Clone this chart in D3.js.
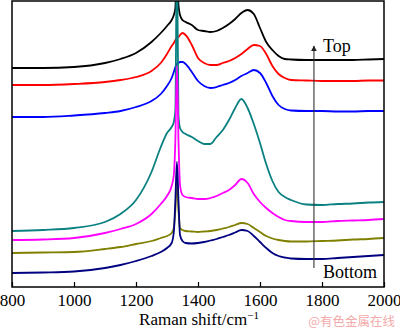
<!DOCTYPE html>
<html>
<head>
<meta charset="utf-8">
<script src="https://cdn.jsdelivr.net/npm/d3@7"></script>
<style>
  html, body { margin: 0; padding: 0; background: #fff; }
  svg { display: block; }
</style>
</head>
<body>
<svg id="chart" width="400" height="329"></svg>
<script>
// Raman shift (cm^-1) sampling positions
const ramanShift = [800, 900, 1000, 1100, 1150, 1200, 1250, 1280, 1300, 1315, 1322, 1327, 1332, 1337, 1342, 1350, 1360, 1380, 1400, 1420, 1440, 1460, 1480, 1500, 1520, 1540, 1560, 1580, 1600, 1620, 1640, 1660, 1680, 1700, 1750, 1800, 1850, 1900, 1950, 2000];

// Intensities (a.u., stacked/offset spectra), top to bottom
const blackSeries   = [219, 219, 220, 224, 228, 234, 245, 254, 261, 267, 272, 279, 327, 282, 272, 267, 265, 262, 257, 256, 255, 256, 259, 263, 268, 274, 277, 273, 259, 245, 237, 231, 228, 227.5, 227, 227, 227, 227, 227.5, 228];
const redSeries     = [202, 202, 203, 205, 207, 210, 216, 224, 233, 241, 244, 247, 249, 250, 252, 254, 252, 242, 229, 224, 222, 222, 224, 226, 229, 233, 238, 242, 241, 233, 221, 213, 209, 207, 206.5, 206, 206, 206, 206.5, 206.5];
const blueSeries    = [170, 170, 171.5, 174, 176, 180, 186, 193, 201, 209, 215, 220, 223, 224, 225, 225, 223, 215, 206, 201, 199, 200, 202, 204, 207, 211, 214, 217, 214, 204, 191, 182, 178, 176.5, 176, 176, 175.5, 175.5, 176, 176];
const tealSeries    = [56, 57, 59, 65, 73, 87, 115, 140, 154, 160, 165, 177, 337, 172, 159, 155, 153, 150, 146, 143, 143, 150, 157, 167, 179, 188, 179, 163, 144, 123, 106, 95, 90, 87, 82.5, 82, 83, 83.5, 84.5, 85];
const magentaSeries = [47, 47.5, 49, 54, 58, 63, 73, 83, 91, 101, 112, 147, 221, 147, 102, 92, 90, 89, 88, 88, 89, 91, 94, 97, 102, 108, 104, 93, 85, 79, 74, 70, 67, 66, 65, 65, 66, 66.5, 67, 68];
const oliveSeries   = [34, 34.5, 35, 38, 40, 43, 46, 49, 51, 54, 59, 77, 107, 77, 59, 57, 56, 55.5, 55, 55.5, 56, 57, 58.5, 60, 62, 64, 63, 59, 55, 51, 48.5, 47, 46, 45.5, 45.5, 46, 46.5, 47.5, 48, 49];
const navySeries    = [14, 14.5, 15.5, 19, 22, 26, 31, 35, 39, 44, 55, 87, 125, 87, 52, 46, 44, 43.5, 44, 45, 46.5, 48, 50, 52, 54.5, 57, 56, 51, 45, 39, 34, 31, 29.5, 28.5, 28, 28, 29, 30, 31, 32];

const seriesNames  = ["black", "red", "blue", "teal", "magenta", "olive", "navy"];
const seriesColors = ["#000000", "#ff0000", "#0000ff", "#0a8080", "#ff00ff", "#808000", "#000080"];
const allSeries    = [blackSeries, redSeries, blueSeries, tealSeries, magentaSeries, oliveSeries, navySeries];

const xTicks = [800, 1000, 1200, 1400, 1600, 1800, 2000];
const xDomain = [800, 2000];
const yDomain = [0, 286];

const arrowX = 1774;          // cm^-1
const arrowFrom = 19, arrowTo = 241;  // a.u.
const xTitle = "Raman shift/cm";
const xTitleSup = "\u22121";
const topLabel = "Top";
const bottomLabel = "Bottom";
const watermark = "@有色金属在线";

// ---- layout ----
const svg = d3.select("#chart");
const mL = 12, mR = 384, mT = 1, mB = 287;

const x = d3.scaleLinear().domain(xDomain).range([mL, mR]);
const y = d3.scaleLinear().domain(yDomain).range([mB, mT]);

const defs = svg.append("defs");
defs.append("clipPath").attr("id", "plotclip")
  .append("rect").attr("x", mL).attr("y", mT).attr("width", mR - mL).attr("height", mB - mT);

const line = d3.line()
  .x((d, i) => x(ramanShift[i]))
  .y(d => y(d))
  .curve(d3.curveMonotoneX);

const g = svg.append("g").attr("clip-path", "url(#plotclip)");
allSeries.forEach((s, k) => {
  g.append("path")
    .datum(s)
    .attr("fill", "none")
    .attr("stroke", seriesColors[k])
    .attr("stroke-width", 1.8)
    .attr("stroke-linejoin", "round")
    .attr("d", line);
});

// arrow
defs.append("marker").attr("id", "ah")
  .attr("viewBox", "0 0 10 10").attr("refX", 9).attr("refY", 5)
  .attr("markerWidth", 6).attr("markerHeight", 7).attr("orient", "auto")
  .attr("markerUnits", "userSpaceOnUse")
  .append("path").attr("d", "M0,0 L10,5 L0,10 Z").attr("fill", "#222");

svg.append("line")
  .attr("x1", x(arrowX)).attr("x2", x(arrowX))
  .attr("y1", y(arrowFrom)).attr("y2", y(arrowTo))
  .attr("stroke", "#333").attr("stroke-width", 1.1)
  .attr("marker-end", "url(#ah)");

svg.append("text").attr("x", x(arrowX) + 9).attr("y", 52)
  .attr("font-family", "'Liberation Serif', 'Times New Roman', serif")
  .attr("font-size", 18).attr("fill", "#000").text(topLabel);
svg.append("text").attr("x", x(arrowX) + 9).attr("y", 278)
  .attr("font-family", "'Liberation Serif', 'Times New Roman', serif")
  .attr("font-size", 18).attr("fill", "#000").text(bottomLabel);

// frame
svg.append("rect")
  .attr("x", mL).attr("y", mT).attr("width", mR - mL).attr("height", mB - mT)
  .attr("fill", "none").attr("stroke", "#000").attr("stroke-width", 1.5);

// x axis
const xAxis = d3.axisBottom(x).tickValues(xTicks).tickSizeInner(-5).tickSizeOuter(0).tickPadding(7).tickFormat(d3.format("d"));
const ax = svg.append("g").attr("transform", `translate(0,${mB})`).call(xAxis);
ax.select(".domain").remove();
ax.selectAll(".tick line").attr("stroke", "#000").attr("stroke-width", 1.2);
ax.selectAll(".tick text")
  .attr("font-family", "'Liberation Serif', 'Times New Roman', serif")
  .attr("font-size", 17).attr("fill", "#000");

// axis title
const t = svg.append("text").attr("x", 199).attr("y", 325).attr("text-anchor", "middle")
  .attr("font-family", "'Liberation Serif', 'Times New Roman', serif")
  .attr("font-size", 17).attr("fill", "#000");
t.append("tspan").text(xTitle);
t.append("tspan").attr("dy", -6).attr("font-size", 11).text(xTitleSup);

// watermark
svg.append("text").attr("x", 395).attr("y", 326).attr("text-anchor", "end")
  .attr("font-family", "'Noto Sans CJK SC', sans-serif")
  .attr("font-size", 12.5).attr("fill", "#f2aaaa").text(watermark);
</script>
</body>
</html>
